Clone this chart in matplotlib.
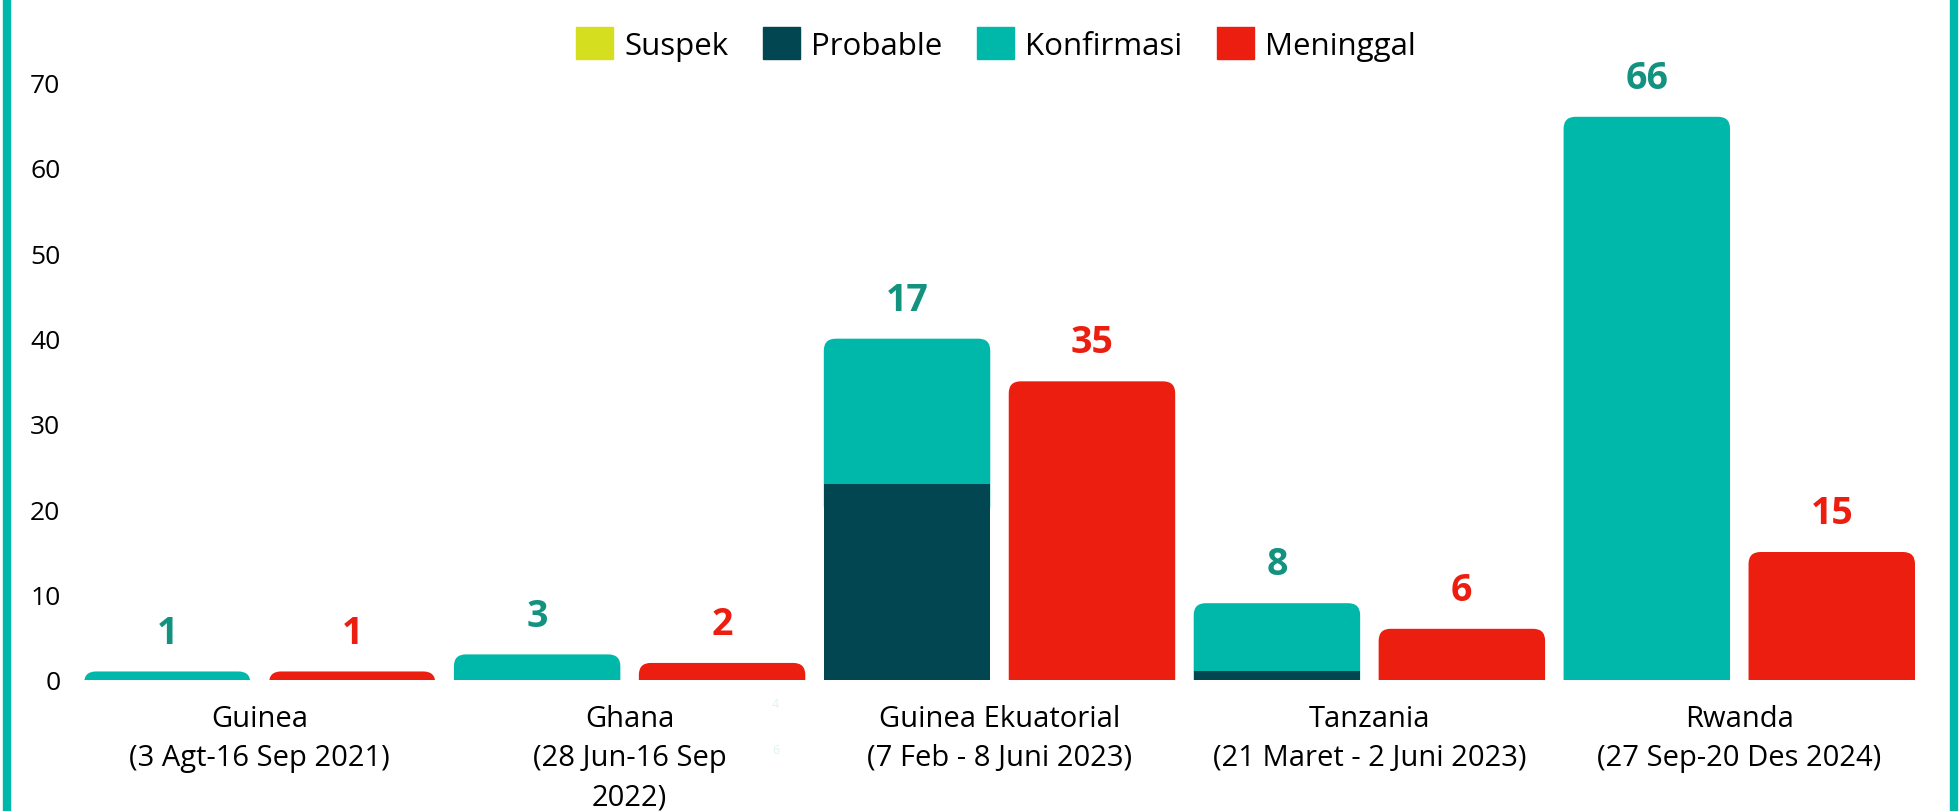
import numpy as np
import matplotlib
matplotlib.use('Agg')
from matplotlib import pyplot as plt
from matplotlib.patches import FancyBboxPatch, Patch, Rectangle

plt.rcParams['font.family'] = ['Open Sans', 'DejaVu Sans']

# data
countries = ['Guinea\n(3 Agt-16 Sep 2021)',
             'Ghana\n(28 Jun-16 Sep\n2022)',
             'Guinea Ekuatorial\n(7 Feb - 8 Juni 2023)',
             'Tanzania\n(21 Maret - 2 Juni 2023)',
             'Rwanda\n(27 Sep-20 Des 2024)']
suspek = [0, 0, 0, 0, 0]
probable = [0, 0, 23, 1, 0]
konfirmasi = [1, 3, 17, 8, 66]
meninggal = [1, 2, 35, 6, 15]
yticks = [0, 10, 20, 30, 40, 50, 60, 70]

C_SUS = '#D6DF1F'
C_PRO = '#014650'
C_KON = '#00B8A9'
C_MEN = '#EB1E10'
C_KON_TXT = '#12927F'

W, H = 1960, 812
fig = plt.figure(figsize=(W / 100, H / 100), dpi=100)
ax = fig.add_axes([84 / W, (H - 681) / H, (1915 - 84) / W, (681 - 41) / H])
ax.set_xlim(-0.45, 9.45)
ax.set_ylim(0, 75)

n = len(countries)
xc = np.arange(n) * 2          # case bars
xd = xc + 1                    # death bars
bw = 0.9

sus = np.array(suspek)
pro = np.array(probable)
kon = np.array(konfirmasi)
men = np.array(meninggal)

ax.bar(xc, sus, bw, color=C_SUS, zorder=3)
ax.bar(xc, pro, bw, bottom=sus, color=C_PRO, zorder=3)
top_kon = ax.bar(xc, kon, bw, bottom=sus + pro, color=C_KON, zorder=2)
top_men = ax.bar(xd, men, bw, color=C_MEN, zorder=2)

# rounded top corners: swap top segments for rounded boxes
fig.canvas.draw()
p0 = ax.transData.transform((0, 0))
p1 = ax.transData.transform((1, 1))
aspect = (1 / (p1[1] - p0[1])) / (1 / (p1[0] - p0[0]))
rad = 12 / (p1[0] - p0[0])
for cont in (top_kon, top_men):
    for p in cont.patches:
        x, y, w, h = p.get_x(), p.get_y(), p.get_width(), p.get_height()
        p.set_visible(False)
        ext = 4
        box = FancyBboxPatch((x, y - ext), w, h + ext,
                             boxstyle='round,pad=0,rounding_size=%f' % rad,
                             mutation_aspect=aspect, facecolor=p.get_facecolor(),
                             edgecolor='none', zorder=2)
        ax.add_patch(box)

# value labels
for x, b, v in zip(xc, sus + pro + kon, kon):
    ax.annotate(str(v), (x, b), xytext=(0, 28), textcoords='offset points',
                ha='center', va='center', fontsize=27, fontweight='bold',
                color=C_KON_TXT)
for x, v in zip(xd, men):
    ax.annotate(str(v), (x, v), xytext=(0, 28), textcoords='offset points',
                ha='center', va='center', fontsize=27, fontweight='bold',
                color=C_MEN)

ax.set_xticks(xc + 0.5)
ax.set_xticklabels(countries, fontsize=21, linespacing=1.48)
ax.set_yticks(yticks)
ax.set_yticklabels([str(t) for t in yticks], fontsize=19)
ax.tick_params(axis='both', length=0)
ax.tick_params(axis='x', pad=17)
ax.tick_params(axis='y', pad=17)
for s in ax.spines.values():
    s.set_visible(False)

handles = [Patch(color=C_SUS, label='Suspek'),
           Patch(color=C_PRO, label='Probable'),
           Patch(color=C_KON, label='Konfirmasi'),
           Patch(color=C_MEN, label='Meninggal')]
fig.legend(handles=handles, loc='center', bbox_to_anchor=(996 / W, 1 - 45 / H),
           ncol=4, frameon=False, fontsize=22.5, handlelength=1.2,
           handleheight=1.2, handletextpad=0.35, columnspacing=1.1,
           borderaxespad=0)

# faint stray marks
fig.text(775 / W, 1 - 705 / H, '4', fontsize=9, color='#DDF4F2', ha='center', va='center')
fig.text(776 / W, 1 - 751 / H, '6', fontsize=9, color='#DDF4F2', ha='center', va='center')

# teal side borders
fig.patches.append(Rectangle((3 / W, 0), 7 / W, 1, transform=fig.transFigure,
                             color=C_KON, figure=fig))
fig.patches.append(Rectangle((1950 / W, 0), 7 / W, 1, transform=fig.transFigure,
                             color=C_KON, figure=fig))

fig.savefig('out.png', dpi=100)
